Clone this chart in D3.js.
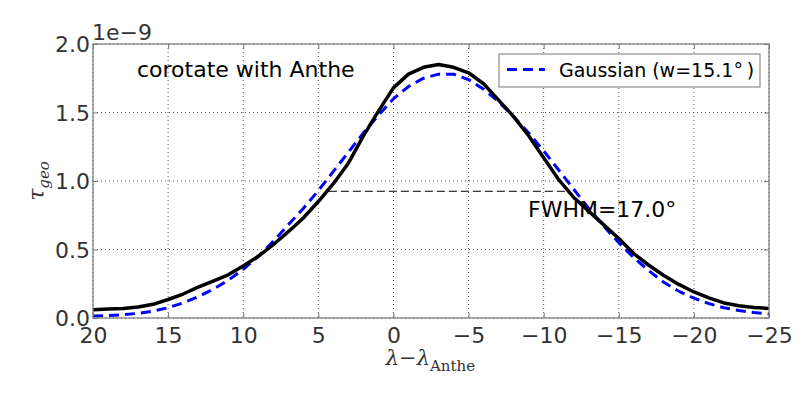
<!DOCTYPE html>
<html>
<head>
<meta charset="utf-8">
<script src="https://cdn.jsdelivr.net/npm/d3@7"></script>
<style>
  body { margin: 0; background: #fff; }
  svg { display: block; }
</style>
</head>
<body>
<div id="chart"></div>
<script>
// longitude offset from Anthe, degrees (1 degree steps)
const lambdas = d3.range(20, -26, -1);

// measured optical depth, units of 1e-9
const tauData = [
  0.060, 0.065, 0.070, 0.080, 0.100, 0.135, 0.175, 0.225, 0.270, 0.315,
  0.380, 0.450, 0.535, 0.630, 0.730, 0.850, 0.980, 1.130, 1.330, 1.510,
  1.680, 1.780, 1.830, 1.850, 1.830, 1.790, 1.710, 1.590, 1.470, 1.330,
  1.170, 1.010, 0.880, 0.780, 0.680, 0.580, 0.470, 0.385, 0.310, 0.245,
  0.190, 0.147, 0.110, 0.090, 0.077, 0.070
];

// gaussian fit
const tauGauss = [
  0.015, 0.018, 0.024, 0.034, 0.050, 0.075, 0.110, 0.155, 0.210, 0.275,
  0.355, 0.450, 0.560, 0.680, 0.800, 0.930, 1.070, 1.210, 1.350, 1.480,
  1.600, 1.690, 1.750, 1.780, 1.780, 1.740, 1.670, 1.580, 1.470, 1.350,
  1.220, 1.080, 0.940, 0.800, 0.670, 0.550, 0.440, 0.345, 0.260, 0.195,
  0.145, 0.105, 0.075, 0.055, 0.040, 0.030
];

const xTicks = [20, 15, 10, 5, 0, -5, -10, -15, -20, -25];
const yTicks = [0.0, 0.5, 1.0, 1.5, 2.0];

// half-maximum marker: [start, end] in degrees and level
const fwhmSpan = [4.3, -11.6];
const fwhmLevel = 0.925;

const width = 806;
const height = 403;
const margin = { top: 44, right: 37, bottom: 85, left: 93 };
const innerWidth = width - margin.left - margin.right;
const innerHeight = height - margin.top - margin.bottom;

const tickFont = "'DejaVu Sans', sans-serif";
const mathFont = "'DejaVu Serif', serif";

const svg = d3.select("#chart").append("svg")
  .attr("width", width)
  .attr("height", height);

const x = d3.scaleLinear().domain([20, -25]).range([0, innerWidth]);
const y = d3.scaleLinear().domain([0, 2.0]).range([innerHeight, 0]);

const g = svg.append("g")
  .attr("transform", `translate(${margin.left},${margin.top})`);

// grid
g.append("g")
  .selectAll("line.vgrid")
  .data(xTicks)
  .enter().append("line")
  .attr("x1", d => x(d)).attr("x2", d => x(d))
  .attr("y1", 0).attr("y2", innerHeight)
  .attr("stroke", "#555")
  .attr("stroke-width", 1)
  .attr("stroke-dasharray", "1,3");

g.append("g")
  .selectAll("line.hgrid")
  .data(yTicks)
  .enter().append("line")
  .attr("x1", 0).attr("x2", innerWidth)
  .attr("y1", d => y(d)).attr("y2", d => y(d))
  .attr("stroke", "#555")
  .attr("stroke-width", 1)
  .attr("stroke-dasharray", "1,3");

// axes (inward ticks, matplotlib classic look)
const xAxis = g.append("g")
  .attr("transform", `translate(0,${innerHeight})`)
  .call(d3.axisBottom(x).tickValues(xTicks).tickSizeInner(-5).tickSizeOuter(0).tickPadding(9)
    .tickFormat(d => d3.format("d")(d).replace("-", "\u2212")));

const yAxis = g.append("g")
  .call(d3.axisLeft(y).tickValues(yTicks).tickSizeInner(-5).tickSizeOuter(0).tickPadding(3)
    .tickFormat(d3.format(".1f")));

[xAxis, yAxis].forEach(ax => {
  ax.select(".domain").remove();
  ax.selectAll(".tick line").attr("stroke", "#777");
  ax.selectAll("text")
    .style("font-family", tickFont)
    .style("font-size", "22px")
    .attr("fill", "#333");
});
xAxis.selectAll("text").attr("dy", "0.71em");
yAxis.selectAll("text").attr("dy", "0.36em");

// top / right ticks
g.append("g").call(d3.axisTop(x).tickValues(xTicks).tickSizeInner(-5).tickSizeOuter(0).tickFormat(""))
  .call(a => a.select(".domain").remove())
  .selectAll(".tick line").attr("stroke", "#777");
g.append("g").attr("transform", `translate(${innerWidth},0)`)
  .call(d3.axisRight(y).tickValues(yTicks).tickSizeInner(-5).tickSizeOuter(0).tickFormat(""))
  .call(a => a.select(".domain").remove())
  .selectAll(".tick line").attr("stroke", "#777");

// FWHM marker
g.append("line")
  .attr("x1", x(fwhmSpan[0])).attr("x2", x(fwhmSpan[1]))
  .attr("y1", y(fwhmLevel)).attr("y2", y(fwhmLevel))
  .attr("stroke", "#000")
  .attr("stroke-width", 1)
  .attr("stroke-dasharray", "8,4");

const line = d3.line()
  .x((d, i) => x(lambdas[i]))
  .y(d => y(d));

g.append("path")
  .datum(tauGauss)
  .attr("fill", "none")
  .attr("stroke", "#0000ff")
  .attr("stroke-width", 3)
  .attr("stroke-dasharray", "10,6")
  .attr("d", line);

g.append("path")
  .datum(tauData)
  .attr("fill", "none")
  .attr("stroke", "#000")
  .attr("stroke-width", 3.5)
  .attr("stroke-linejoin", "round")
  .attr("d", line);

// frame
g.append("rect")
  .attr("width", innerWidth)
  .attr("height", innerHeight)
  .attr("fill", "none")
  .attr("stroke", "#808080")
  .attr("stroke-width", 1.3);

// annotations
g.append("text")
  .attr("x", 44)
  .attr("y", 33)
  .style("font-family", tickFont)
  .style("font-size", "22px")
  .attr("fill", "#000")
  .text("corotate with Anthe");

g.append("text")
  .attr("x", 435)
  .attr("y", 173)
  .style("font-family", tickFont)
  .style("font-size", "22px")
  .attr("fill", "#000")
  .text("FWHM=17.0\u00b0");

svg.append("text")
  .attr("x", margin.left - 1)
  .attr("y", 40)
  .style("font-family", tickFont)
  .style("font-size", "22px")
  .attr("fill", "#333")
  .text("1e\u22129");

// legend
const legend = g.append("g").attr("transform", "translate(406,10)");
legend.append("rect")
  .attr("width", 261)
  .attr("height", 33)
  .attr("fill", "#fff")
  .attr("stroke", "#777")
  .attr("stroke-width", 1);
legend.append("line")
  .attr("x1", 8).attr("x2", 46)
  .attr("y1", 15.5).attr("y2", 15.5)
  .attr("stroke", "#0000ff")
  .attr("stroke-width", 3)
  .attr("stroke-dasharray", "10,6");
legend.append("text")
  .attr("x", 60)
  .attr("y", 23)
  .style("font-family", tickFont)
  .style("font-size", "19px")
  .attr("fill", "#000")
  .text("Gaussian (w=15.1\u00b0\u2009)");

// axis labels
const yLabel = svg.append("text")
  .attr("transform", `translate(44,${margin.top + innerHeight / 2}) rotate(-90)`)
  .attr("text-anchor", "middle")
  .style("font-family", mathFont)
  .attr("fill", "#333");
yLabel.append("tspan").style("font-style", "italic").style("font-size", "22px").text("\u03c4");
yLabel.append("tspan").style("font-style", "italic").style("font-size", "15px").attr("dy", 5).text("geo");

const xLabel = svg.append("text")
  .attr("x", margin.left + x(0) + 37)
  .attr("y", 365)
  .attr("text-anchor", "middle")
  .style("font-family", mathFont)
  .attr("fill", "#333");
xLabel.append("tspan").style("font-style", "italic").style("font-size", "21px").text("\u03bb");
xLabel.append("tspan").style("font-size", "21px").text("\u2212");
xLabel.append("tspan").style("font-style", "italic").style("font-size", "21px").text("\u03bb");
xLabel.append("tspan").style("font-size", "15px").attr("dy", 6).text("Anthe");
</script>
</body>
</html>
